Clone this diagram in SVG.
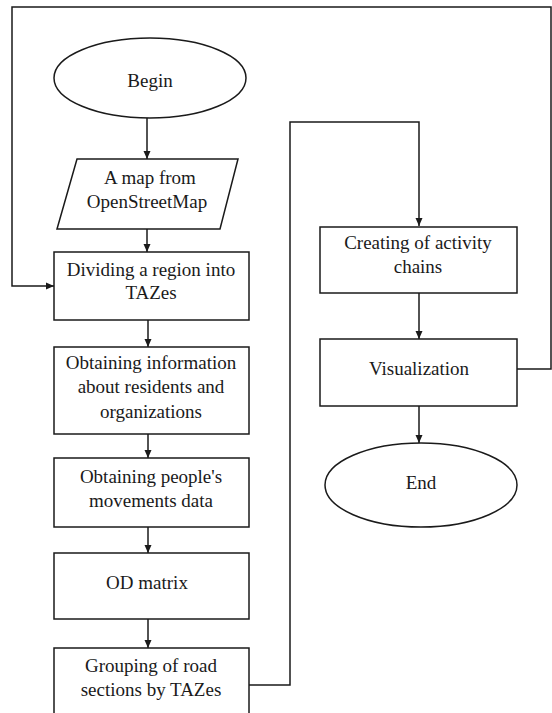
<svg xmlns="http://www.w3.org/2000/svg" width="552" height="713" viewBox="0 0 552 713">
<defs>
<marker id="ah" markerWidth="8" markerHeight="8" refX="8" refY="4" orient="auto" markerUnits="userSpaceOnUse">
<path d="M0,0.5 L8,4 L0,7.5 Z" fill="#1a1a1a"/>
</marker>
<style>
.s{fill:#fff;stroke:#1a1a1a;stroke-width:1.5}
.c{fill:none;stroke:#1a1a1a;stroke-width:1.5}
.a{marker-end:url(#ah)}
text{font-family:"Liberation Serif","Times New Roman",serif;font-size:19px;fill:#1a1a1a;text-anchor:middle}
</style>
</defs>
<rect width="552" height="713" fill="#fff"/>
<g id="connectors">
<path class="c a" d="M517,369 H551 V7 H12 V286 H54"/>
<path class="c a" d="M249,685 H290 V122 H419 V226"/>
<path class="c a" d="M147,118 V159"/>
<path class="c a" d="M147,229 V252"/>
<path class="c a" d="M148,320 V347"/>
<path class="c a" d="M148,434 V458"/>
<path class="c a" d="M148,527 V553"/>
<path class="c a" d="M148,619 V648"/>
<path class="c a" d="M419,293 V339"/>
<path class="c a" d="M419,406 V443"/>
</g>
<g id="begin">
<ellipse class="s" cx="150" cy="78" rx="96" ry="40"/>
<text x="150" y="87">Begin</text>
</g>
<g id="map">
<polygon class="s" points="77,159 238,159 220,229 57,229"/>
<text x="150" y="184">A map from</text>
<text x="147" y="208">OpenStreetMap</text>
</g>
<g id="dividing">
<rect class="s" x="54" y="252" width="195" height="68"/>
<text x="151" y="276">Dividing a region into</text>
<text x="151" y="299">TAZes</text>
</g>
<g id="info">
<rect class="s" x="54" y="347" width="195" height="87"/>
<text x="151" y="369">Obtaining information</text>
<text x="151" y="393">about residents and</text>
<text x="151" y="418">organizations</text>
</g>
<g id="movements">
<rect class="s" x="54" y="458" width="195" height="69"/>
<text x="151" y="483">Obtaining people's</text>
<text x="151" y="507">movements data</text>
</g>
<g id="od">
<rect class="s" x="54" y="553" width="195" height="66"/>
<text x="147" y="589">OD matrix</text>
</g>
<g id="grouping">
<rect class="s" x="54" y="648" width="195" height="80"/>
<text x="151" y="672">Grouping of road</text>
<text x="151" y="696">sections by TAZes</text>
</g>
<g id="creating">
<rect class="s" x="320" y="227" width="197" height="66"/>
<text x="418" y="249">Creating of activity</text>
<text x="418" y="273">chains</text>
</g>
<g id="visualization">
<rect class="s" x="320" y="339" width="197" height="67"/>
<text x="419" y="375">Visualization</text>
</g>
<g id="end">
<ellipse class="s" cx="421" cy="485" rx="96" ry="42"/>
<text x="421" y="489">End</text>
</g>
</svg>
